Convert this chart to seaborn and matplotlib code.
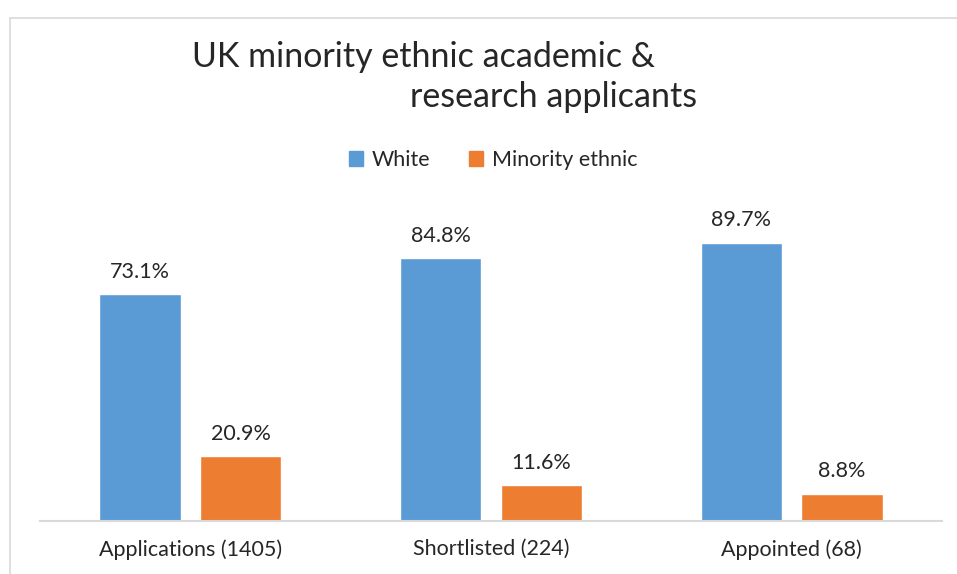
import pandas as pd
import matplotlib.pyplot as plt
import matplotlib.patches as mpatches
import matplotlib.lines as mlines
import seaborn as sns

stages = ["Applications (1405)", "Shortlisted (224)", "Appointed (68)"]
white = [73.1, 84.8, 89.7]
minority = [20.9, 11.6, 8.8]
groups = ["White", "Minority ethnic"]
colors = ["#5B9BD5", "#ED7D31"]

df = pd.DataFrame({
    "stage": stages * 2,
    "pct": white + minority,
    "group": [groups[0]] * 3 + [groups[1]] * 3,
})

sns.set_style("white")
plt.rcParams['font.family'] = ['Lato', 'DejaVu Sans']

fig = plt.figure(figsize=(9.57, 5.74), dpi=100)
ax = fig.add_axes([40 / 957, 53 / 574, 902 / 957, 310 / 574])

sns.barplot(data=df, x="stage", y="pct", hue="group", palette=colors,
            saturation=1, width=0.67, gap=0.19, ax=ax, legend=True)

for c in ax.containers:
    ax.bar_label(c, fmt="%.1f%%", padding=9, fontsize=15.5, color="#262626")

ax.set_ylim(0, 100)
ax.set_xlim(-0.5, 2.5)
ax.set_xlabel("")
ax.set_ylabel("")
ax.set_yticks([])
ax.tick_params(axis="x", length=0, labelsize=15.5, pad=13, labelcolor="#262626")
for s in ["left", "right", "top"]:
    ax.spines[s].set_visible(False)
ax.spines["bottom"].set_color("#D9D9D9")
ax.spines["bottom"].set_linewidth(1.5)

ax.get_legend().remove()
handles = [mpatches.Patch(color=c, label=g) for c, g in zip(colors, groups)]
fig.legend(handles=handles, loc="center", bbox_to_anchor=(493 / 957, 1 - 160 / 574),
           ncol=2, frameon=False, fontsize=15.5, handlelength=0.65, handleheight=0.65,
           handletextpad=0.4, columnspacing=1.8, labelcolor="#262626")

fig.text(192 / 957, 1 - 57 / 574, "UK minority ethnic academic &", fontsize=24.5,
         ha="left", va="center", color="#262626")
fig.text(410 / 957, 1 - 97 / 574, "research applicants", fontsize=24.5,
         ha="left", va="center", color="#262626")

# outer frame of the chart area
fig.add_artist(mlines.Line2D([10 / 957, 10 / 957], [0, 1 - 18 / 574],
                             transform=fig.transFigure, color="#D9D9D9", lw=1.2))
fig.add_artist(mlines.Line2D([10 / 957, 1], [1 - 18 / 574, 1 - 18 / 574],
                             transform=fig.transFigure, color="#D9D9D9", lw=1.2))

fig.savefig("out.png", dpi=100)
